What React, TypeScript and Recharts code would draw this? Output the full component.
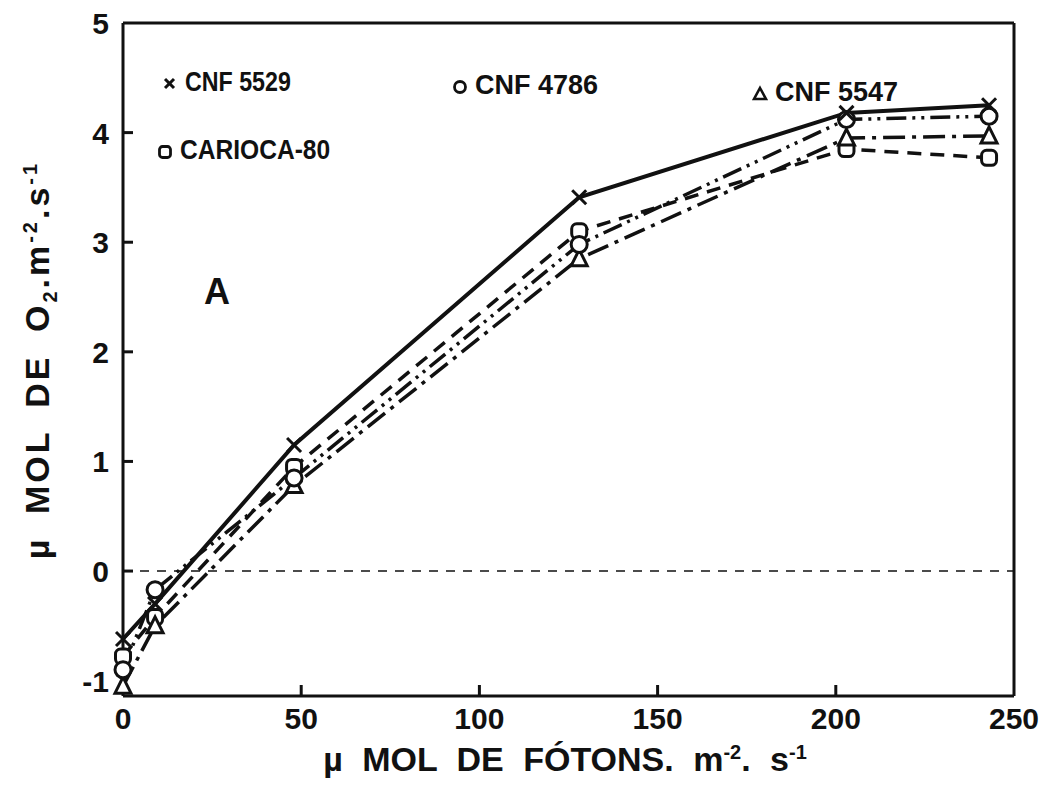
import React from "react";
import { LineChart, Line, XAxis, YAxis, ReferenceLine } from "recharts";

// photon flux (x) and O2 evolution per cultivar
const photons = [0, 9, 48, 128, 203, 243];
const cnf5529 = [-0.62, -0.3, 1.15, 3.41, 4.18, 4.25];
const cnf4786 = [-0.9, -0.17, 0.85, 2.98, 4.12, 4.15];
const cnf5547 = [-1.05, -0.5, 0.78, 2.85, 3.95, 3.97];
const carioca80 = [-0.78, -0.42, 0.95, 3.1, 3.85, 3.77];

const xTicks = [0, 50, 100, 150, 200, 250];
const yTicks = [-1, 0, 1, 2, 3, 4, 5];

const data = photons.map((x, i) => ({
  x,
  cnf5529: cnf5529[i],
  cnf4786: cnf4786[i],
  cnf5547: cnf5547[i],
  carioca80: carioca80[i],
}));

const FONT = "'Liberation Sans', Arial, sans-serif";
const INK = "#111";

const textStyle: React.CSSProperties = {
  fontFamily: FONT,
  fontWeight: 700,
  fontSize: 30,
  fill: INK,
};

function XTick({ x, y, payload }: any) {
  const v = payload.value;
  return (
    <g>
      {v > 0 && v < 250 && (
        <line x1={x} x2={x} y1={y} y2={y - 11} stroke={INK} strokeWidth={3} />
      )}
      <text x={x} y={y + 33} textAnchor="middle" style={textStyle}>
        {v}
      </text>
    </g>
  );
}

function YTick({ x, y, payload }: any) {
  const v = payload.value;
  return (
    <g>
      {v > -1 && v < 5 && (
        <line x1={x} x2={x + 10} y1={y} y2={y} stroke={INK} strokeWidth={3} />
      )}
      <text x={x - 14} y={y + 11} textAnchor="end" style={textStyle}>
        {v}
      </text>
    </g>
  );
}

const CrossDot = (p: any) => (
  <g key={`x${p.index}`}>
    <line x1={p.cx - 7} y1={p.cy - 7} x2={p.cx + 7} y2={p.cy + 7} stroke={INK} strokeWidth={3} />
    <line x1={p.cx - 7} y1={p.cy + 7} x2={p.cx + 7} y2={p.cy - 7} stroke={INK} strokeWidth={3} />
  </g>
);

const CircleDot = (p: any) => (
  <circle key={`c${p.index}`} cx={p.cx} cy={p.cy} r={8} fill="#fff" stroke={INK} strokeWidth={3} />
);

const TriDot = (p: any) => (
  <path
    key={`t${p.index}`}
    d={`M${p.cx},${p.cy - 9} L${p.cx + 8},${p.cy + 7} L${p.cx - 8},${p.cy + 7} Z`}
    fill="#fff"
    stroke={INK}
    strokeWidth={3}
  />
);

const SquareDot = (p: any) => (
  <rect
    key={`s${p.index}`}
    x={p.cx - 7.5}
    y={p.cy - 7.5}
    width={15}
    height={15}
    rx={5}
    fill="#fff"
    stroke={INK}
    strokeWidth={3}
  />
);

const legendText: React.CSSProperties = {
  position: "absolute",
  fontFamily: FONT,
  fontWeight: 700,
  fontSize: 27,
  color: INK,
  lineHeight: 1,
  whiteSpace: "nowrap",
};

function LegendItem({
  left,
  top,
  icon,
  label,
  squeeze = 1,
}: {
  left: number;
  top: number;
  icon: React.ReactNode;
  label: string;
  squeeze?: number;
}) {
  return (
    <div style={{ ...legendText, left, top, display: "flex", alignItems: "center", gap: 7 }}>
      <svg width={16} height={16} viewBox="0 0 16 16">
        {icon}
      </svg>
      <span style={{ display: "inline-block", transform: `scaleX(${squeeze})`, transformOrigin: "left center" }}>
        {label}
      </span>
    </div>
  );
}

const supStyle: React.CSSProperties = { fontSize: 20 };

export default function App() {
  return (
    <div style={{ position: "relative", width: 1043, height: 789, background: "#fff" }}>
      <style>{`body{margin:0;background:#fff}`}</style>
      <LineChart
        width={1043}
        height={789}
        data={data}
        margin={{ top: 23, right: 29, left: 0, bottom: 0 }}
      >
        <XAxis
          dataKey="x"
          type="number"
          domain={[0, 250]}
          ticks={xTicks}
          tick={<XTick />}
          tickSize={0}
          tickMargin={0}
          height={93}
          axisLine={{ stroke: INK, strokeWidth: 3 }}
          interval={0}
        />
        <YAxis
          type="number"
          domain={[-1.14, 5]}
          ticks={yTicks}
          tick={<YTick />}
          tickSize={0}
          tickMargin={0}
          width={123}
          axisLine={{ stroke: INK, strokeWidth: 3 }}
          allowDataOverflow
          interval={0}
        />
        <ReferenceLine y={5} stroke={INK} strokeWidth={3} />
        <ReferenceLine x={250} stroke={INK} strokeWidth={3} />
        <ReferenceLine y={0} stroke={INK} strokeWidth={1.5} strokeDasharray="9 8" />

        <Line
          dataKey="carioca80"
          stroke={INK}
          strokeWidth={3.5}
          strokeDasharray="14 9"
          dot={SquareDot}
          isAnimationActive={false}
        />
        <Line
          dataKey="cnf5547"
          stroke={INK}
          strokeWidth={3.5}
          strokeDasharray="22 7 4 7"
          dot={TriDot}
          isAnimationActive={false}
        />
        <Line
          dataKey="cnf4786"
          stroke={INK}
          strokeWidth={3.5}
          strokeDasharray="20 6 3 6 3 6"
          dot={CircleDot}
          isAnimationActive={false}
        />
        <Line
          dataKey="cnf5529"
          stroke={INK}
          strokeWidth={4}
          dot={CrossDot}
          isAnimationActive={false}
        />
      </LineChart>

      <LegendItem
        left={162}
        top={69}
        label="CNF 5529"
        squeeze={0.86}
        icon={
          <g stroke={INK} strokeWidth={3}>
            <line x1={3} y1={4} x2={12} y2={13} />
            <line x1={3} y1={13} x2={12} y2={4} />
          </g>
        }
      />
      <LegendItem
        left={452}
        top={72}
        label="CNF 4786"
        icon={<circle cx={8} cy={9} r={5.5} fill="#fff" stroke={INK} strokeWidth={2.8} />}
      />
      <LegendItem
        left={752}
        top={79}
        label="CNF 5547"
        icon={<path d="M8,3 L14,14 L2,14 Z" fill="#fff" stroke={INK} strokeWidth={2.6} />}
      />
      <LegendItem
        left={157}
        top={137}
        label="CARIOCA-80"
        squeeze={0.91}
        icon={<rect x={2.5} y={3.5} width={11} height={11} rx={3} fill="#fff" stroke={INK} strokeWidth={2.8} />}
      />

      <div style={{ ...legendText, left: 204, top: 274, fontSize: 36 }}>A</div>

      <div
        style={{
          ...legendText,
          left: 565,
          top: 742,
          fontSize: 34,
          transform: "translateX(-50%)",
          wordSpacing: 10,
        }}
      >
        µ MOL DE FÓTONS. m<sup style={supStyle}>-2</sup>. s<sup style={supStyle}>-1</sup>
      </div>

      <div
        style={{
          ...legendText,
          left: 40,
          top: 360,
          fontSize: 34,
          transform: "translate(-50%, -50%) rotate(-90deg)",
          wordSpacing: 10,
          letterSpacing: 3,
        }}
      >
        µ MOL DE O<sub style={supStyle}>2</sub>.m<sup style={supStyle}>-2</sup>.s<sup style={supStyle}>-1</sup>
      </div>
    </div>
  );
}
